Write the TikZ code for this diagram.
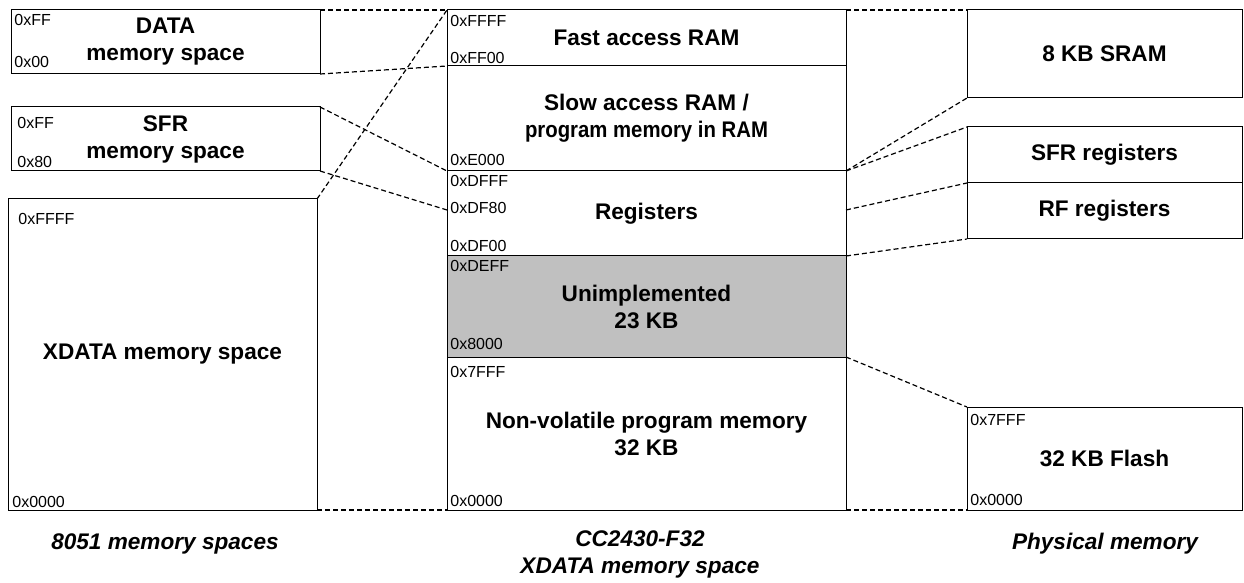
\documentclass[tikz,border=0pt]{standalone}
\usepackage{fontspec}
\setmainfont{Liberation Sans}
\begin{document}
\begin{tikzpicture}[x=0.5pt,y=-0.5pt,
  box/.style={draw=black, line width=0.5pt, inner sep=0pt, outer sep=0pt, anchor=north west, align=center, font=\fontsize{11.3}{13.5}\selectfont\bfseries},
  hex/.style={anchor=west, inner sep=0pt, font=\fontsize{8}{9}\selectfont},
  map/.style={dash pattern=on 2.5pt off 1.5pt, line width=0.6pt},
  caption/.style={inner sep=0pt, align=center, font=\fontsize{11.3}{13.5}\selectfont\bfseries\itshape}]
\useasboundingbox (0,0) rectangle (1244,583);
% 8051 memory spaces
\node[box, minimum width=154.5pt, minimum height=32pt] (data) at (11,10) {DATA\\memory space};
\node[box, minimum width=154.5pt, minimum height=32pt] (sfr) at (11,107) {SFR\\memory space};
\node[box, minimum width=154.5pt, minimum height=155.5pt] (xdata) at (8,199) {XDATA memory space};
% CC2430 XDATA
\node[box, minimum width=199.5pt, minimum height=28pt] (fast) at (447,10) {Fast access RAM};
\node[box, minimum width=199.5pt, minimum height=52.5pt] (slow) at (447,66) {Slow access RAM /\\\scalebox{0.9}[1]{program memory in RAM}};
\node[box, minimum width=199.5pt, minimum height=42.5pt] (regs) at (447,171) {Registers};
\node[box, fill={rgb,255:red,192;green,192;blue,192}, minimum width=199.5pt, minimum height=50.5pt] (unimpl) at (447,256) {Unimplemented\\23 KB};
\node[box, minimum width=199.5pt, minimum height=76.5pt] (nonvol) at (447,357) {Non-volatile program memory\\32 KB};
% Physical memory
\node[box, minimum width=137.5pt, minimum height=44pt] (sram) at (967,10) {8 KB SRAM};
\node[box, minimum width=137.5pt, minimum height=28pt] (sfrreg) at (967,127) {SFR registers};
\node[box, minimum width=137.5pt, minimum height=28pt] (rfreg) at (967,183) {RF registers};
\node[box, minimum width=137.5pt, minimum height=51.5pt] (flash) at (967,407) {32 KB Flash};
% address labels
\node[hex] (dataFF) at (14,20) {0xFF};
\node[hex] (data00) at (14,62) {0x00};
\node[hex] (sfrFF) at (17,123) {0xFF};
\node[hex] (sfr80) at (17,162) {0x80};
\node[hex] (xdFFFF) at (18,219) {0xFFFF};
\node[hex] (xd0000) at (12,502) {0x0000};
\node[hex] (cFFFF) at (450,21) {0xFFFF};
\node[hex] (cFF00) at (450,58) {0xFF00};
\node[hex] (cE000) at (450,160) {0xE000};
\node[hex] (cDFFF) at (450,181) {0xDFFF};
\node[hex] (cDF80) at (450,208) {0xDF80};
\node[hex] (cDF00) at (450,246) {0xDF00};
\node[hex] (cDEFF) at (450,266) {0xDEFF};
\node[hex] (c8000) at (450,344) {0x8000};
\node[hex] (c7FFF) at (450,372) {0x7FFF};
\node[hex] (c0000) at (450,501) {0x0000};
\node[hex] (f7FFF) at (970,420) {0x7FFF};
\node[hex] (f0000) at (970,500) {0x0000};
% captions
\node[caption] (cap1) at (165,544) {8051 memory spaces};
\node[caption] (cap2) at (640,554) {CC2430-F32\\XDATA memory space};
\node[caption] (cap3) at (1105,544) {Physical memory};
% mapping coordinates
\coordinate (df80L) at (447,210);
\coordinate (df80R) at (846,210);
% mapping lines, left
\draw[map] (data.north east) -- (fast.north west);
\draw[map] (data.south east) -- (fast.south west);
\draw[map] (sfr.north east) -- (slow.south west);
\draw[map] (sfr.south east) -- (df80L);
\draw[map] (xdata.north east) -- (fast.north west);
\draw[map] (xdata.south east) -- (nonvol.south west);
% mapping lines, right
\draw[map] (fast.north east) -- (sram.north west);
\draw[map] (slow.south east) -- (sram.south west);
\draw[map] (slow.south east) -- (sfrreg.north west);
\draw[map] (df80R) -- (rfreg.north west);
\draw[map] (regs.south east) -- (rfreg.south west);
\draw[map] (unimpl.south east) -- (flash.north west);
\draw[map] (nonvol.south east) -- (flash.south west);
\end{tikzpicture}
\end{document}
